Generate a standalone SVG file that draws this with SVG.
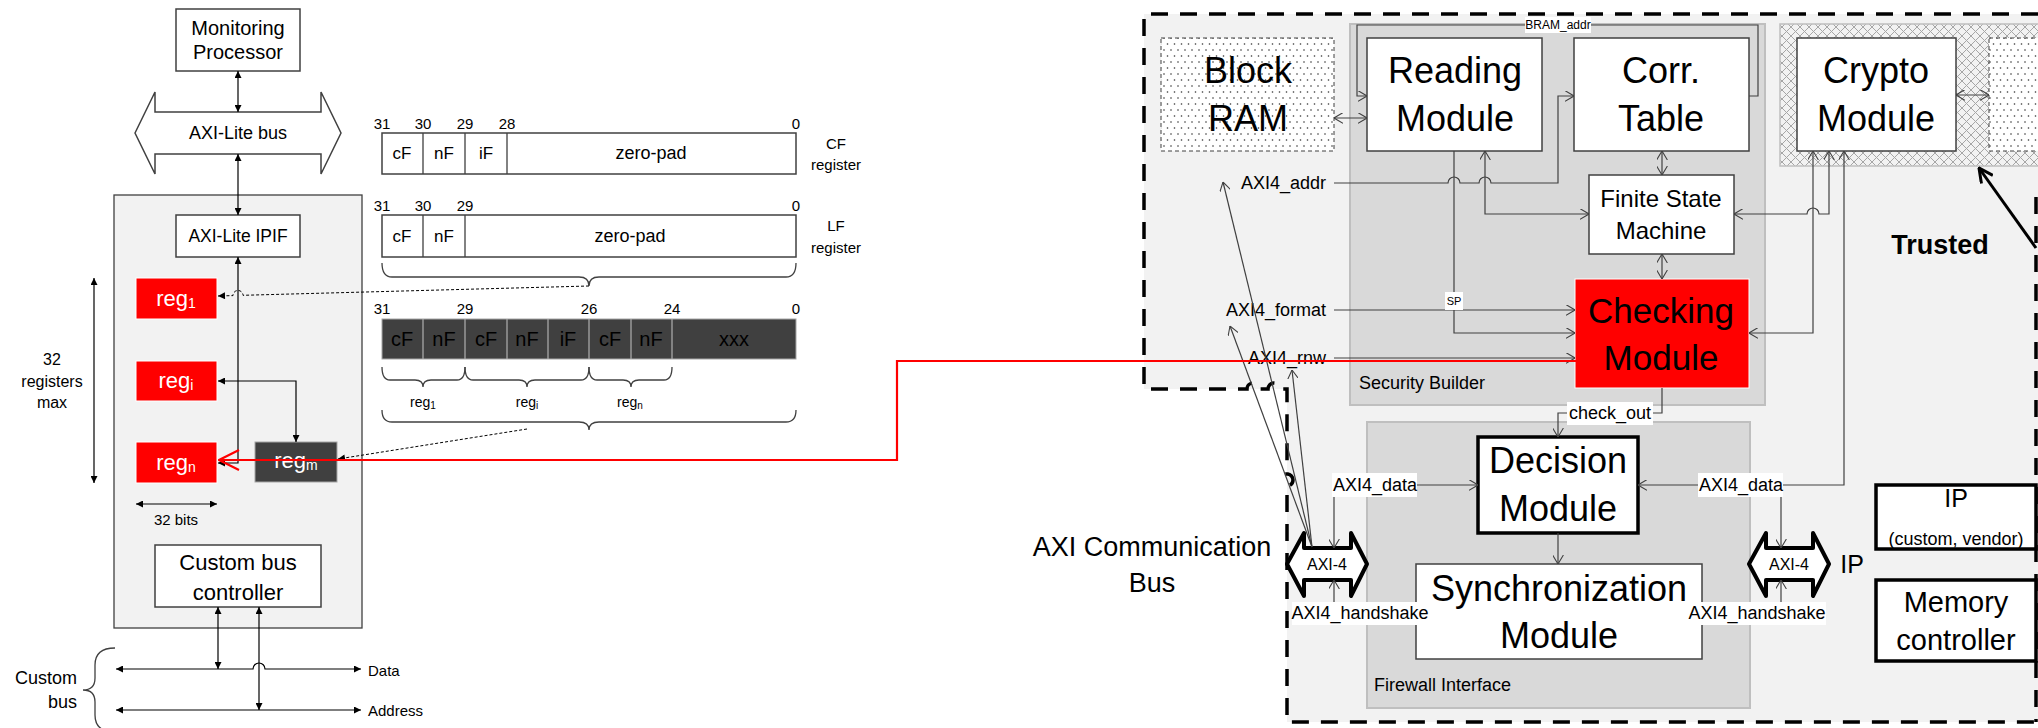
<svg xmlns="http://www.w3.org/2000/svg" width="2038" height="728" viewBox="0 0 2038 728">
<style>
text{font-family:"Liberation Sans",Arial,sans-serif;fill:#000;dominant-baseline:central}
.c{text-anchor:middle}
.r{text-anchor:end}
.box{fill:#fff;stroke:#404040;stroke-width:1.5}
.tbox{fill:#fff;stroke:#000;stroke-width:3.5}
.red{fill:#ff0000;stroke:#fff;stroke-width:1}
.dark{fill:#404040;stroke:#a6a6a6;stroke-width:1}
.w{fill:#fff}
.ln{fill:none;stroke:#000;stroke-width:1.2}
.rl{fill:none;stroke:#404040;stroke-width:1.2}
.dash{fill:none;stroke:#000;stroke-width:1;stroke-dasharray:3 2}
.br{fill:none;stroke:#404040;stroke-width:1.3}
.lab{fill:#fff}
</style>
<defs>
<marker id="fa" viewBox="0 0 10 10" refX="10" refY="5" markerWidth="9" markerHeight="7" markerUnits="userSpaceOnUse" orient="auto-start-reverse"><path d="M0,0 L10,5 L0,10 z" fill="#000"/></marker>
<marker id="oa" viewBox="0 0 10 12" refX="10" refY="6" markerWidth="9" markerHeight="11" markerUnits="userSpaceOnUse" orient="auto-start-reverse"><path d="M0,0 L10,6 L0,12" fill="none" stroke="#404040" stroke-width="1.2"/></marker>
<marker id="ra" viewBox="0 0 22 22" refX="21" refY="11" markerWidth="22" markerHeight="22" markerUnits="userSpaceOnUse" orient="auto"><path d="M1,1 L21,11 L1,21" fill="none" stroke="#ff0000" stroke-width="2.2"/></marker>
<marker id="ta" viewBox="0 0 16 16" refX="15" refY="8" markerWidth="16" markerHeight="16" markerUnits="userSpaceOnUse" orient="auto"><path d="M1,1 L15,8 L1,15" fill="none" stroke="#000" stroke-width="3"/></marker>
<pattern id="xh" width="9" height="9" patternUnits="userSpaceOnUse"><rect width="9" height="9" fill="#f2f2f2"/><path d="M0,0 L9,9 M9,0 L0,9" stroke="#a6a6a6" stroke-width="1"/></pattern>
<pattern id="dots" width="7" height="12" patternUnits="userSpaceOnUse"><rect width="7" height="12" fill="#fff"/><circle cx="2" cy="2" r="0.8" fill="#333"/><circle cx="5.5" cy="8" r="0.8" fill="#333"/></pattern>
</defs>
<rect width="2038" height="728" fill="#fff"/>

<!-- ============ LEFT DIAGRAM ============ -->
<g id="ipcore-container">
<rect x="114" y="195" width="248" height="433" fill="#f2f2f2" stroke="#404040" stroke-width="1.3"/>
</g>
<g id="monitoring-processor">
<rect class="box" x="176" y="9" width="124" height="62"/>
<text class="c" x="238" y="28" font-size="20">Monitoring</text>
<text class="c" x="238" y="52" font-size="20">Processor</text>
</g>
<g id="axi-lite-bus">
<polygon points="135,133 155,92 155,112 321,112 321,92 341,133 321,174 321,154 155,154 155,174" fill="#fff" stroke="#404040" stroke-width="1.5"/>
<text class="c" x="238" y="133" font-size="18">AXI-Lite bus</text>
</g>
<g id="axi-lite-ipif">
<rect class="box" x="176" y="215" width="124" height="42"/>
<text class="c" x="238" y="236" font-size="17.5">AXI-Lite IPIF</text>
</g>
<g id="reg1">
<rect class="red" x="136" y="278" width="81" height="41"/>
<text class="c w" x="176" y="298" font-size="22" fill="#fff">reg<tspan font-size="14" dy="5">1</tspan></text>
</g>
<g id="regi">
<rect class="red" x="136" y="361" width="81" height="40"/>
<text class="c w" x="176" y="380" font-size="22" fill="#fff">reg<tspan font-size="14" dy="5">i</tspan></text>
</g>
<g id="regn">
<rect class="red" x="136" y="442" width="81" height="41"/>
<text class="c w" x="176" y="462" font-size="22" fill="#fff">reg<tspan font-size="14" dy="5">n</tspan></text>
</g>
<g id="regm">
<rect class="dark" x="255" y="442" width="82" height="40"/>
<text class="c w" x="296" y="460" font-size="22" fill="#fff">reg<tspan font-size="14" dy="5">m</tspan></text>
</g>
<g id="custom-bus-controller">
<rect class="box" x="155" y="545" width="166" height="62"/>
<text class="c" x="238" y="562" font-size="22">Custom bus</text>
<text class="c" x="238" y="592" font-size="22">controller</text>
</g>
<g id="left-labels">
<text class="c" x="52" y="359" font-size="16">32</text>
<text class="c" x="52" y="381" font-size="16">registers</text>
<text class="c" x="52" y="402" font-size="16">max</text>
<text class="c" x="176" y="519" font-size="15">32 bits</text>
<text class="r" x="77" y="678" font-size="18">Custom</text>
<text class="r" x="77" y="702" font-size="18">bus</text>
<text x="368" y="670" font-size="15">Data</text>
<text x="368" y="710" font-size="15">Address</text>
<path class="br" d="M115,648 Q95,648 95,665 V678 Q95,690 83,690 Q95,690 95,702 V715 Q95,732 115,732"/>
</g>

<g id="cf-register">
<g font-size="15">
<text class="c" x="382" y="123">31</text><text class="c" x="423" y="123">30</text><text class="c" x="465" y="123">29</text><text class="c" x="507" y="123">28</text><text class="c" x="796" y="123">0</text>
</g>
<rect class="box" x="382" y="133" width="414" height="41"/>
<path d="M423,133 V174 M465,133 V174 M507,133 V174" stroke="#404040" stroke-width="1.3"/>
<text class="c" x="402" y="153" font-size="17">cF</text>
<text class="c" x="444" y="153" font-size="17">nF</text>
<text class="c" x="486" y="153" font-size="17">iF</text>
<text class="c" x="651" y="153" font-size="18">zero-pad</text>
<text class="c" x="836" y="143" font-size="15">CF</text>
<text class="c" x="836" y="164" font-size="15">register</text>
</g>
<g id="lf-register">
<g font-size="15">
<text class="c" x="382" y="205">31</text><text class="c" x="423" y="205">30</text><text class="c" x="465" y="205">29</text><text class="c" x="796" y="205">0</text>
</g>
<rect class="box" x="382" y="215" width="414" height="42"/>
<path d="M423,215 V257 M465,215 V257" stroke="#404040" stroke-width="1.3"/>
<text class="c" x="402" y="236" font-size="17">cF</text>
<text class="c" x="444" y="236" font-size="17">nF</text>
<text class="c" x="630" y="236" font-size="18">zero-pad</text>
<text class="c" x="836" y="225" font-size="15">LF</text>
<text class="c" x="836" y="247" font-size="15">register</text>
<path class="br" d="M382,263 Q382,277 392,277 H579 Q589,277 589,286 Q589,277 599,277 H786 Q796,277 796,263"/>
</g>
<g id="packed-register">
<g font-size="15">
<text class="c" x="382" y="308">31</text><text class="c" x="465" y="308">29</text><text class="c" x="589" y="308">26</text><text class="c" x="672" y="308">24</text><text class="c" x="796" y="308">0</text>
</g>
<rect class="dark" x="382" y="319" width="414" height="40"/>
<path d="M423,319 V359 M465,319 V359 M507,319 V359 M548,319 V359 M589,319 V359 M631,319 V359 M672,319 V359" stroke="#a6a6a6" stroke-width="1.3"/>
<g font-size="20" fill="#fff">
<text class="c" x="402" y="339" fill="#fff">cF</text>
<text class="c" x="444" y="339" fill="#fff">nF</text>
<text class="c" x="486" y="339" fill="#fff">cF</text>
<text class="c" x="527" y="339" fill="#fff">nF</text>
<text class="c" x="568" y="339" fill="#fff">iF</text>
<text class="c" x="610" y="339" fill="#fff">cF</text>
<text class="c" x="651" y="339" fill="#fff">nF</text>
<text class="c" x="734" y="339" fill="#fff">xxx</text>
</g>
<path class="br" d="M382,367 Q382,380 390,380 H415 Q423,380 423,387 Q423,380 431,380 H457 Q465,380 465,367"/>
<path class="br" d="M465,367 Q465,380 473,380 H519 Q527,380 527,387 Q527,380 535,380 H581 Q589,380 589,367"/>
<path class="br" d="M589,367 Q589,380 597,380 H623 Q631,380 631,387 Q631,380 639,380 H664 Q672,380 672,367"/>
<text class="c" x="423" y="402" font-size="14">reg<tspan font-size="10" dy="3">1</tspan></text>
<text class="c" x="527" y="402" font-size="14">reg<tspan font-size="10" dy="3">i</tspan></text>
<text class="c" x="630" y="402" font-size="14">reg<tspan font-size="10" dy="3">n</tspan></text>
<path class="br" d="M382,410 Q382,422 392,422 H579 Q589,422 589,430 Q589,422 599,422 H786 Q796,422 796,410"/>
</g>

<!-- ============ RIGHT DIAGRAM ============ -->
<g id="trusted-zone">
<path d="M1144,14 H2038 V722 H1287 V389 H1144 Z" fill="#f2f2f2"/>
</g>
<g id="security-builder">
<rect x="1350" y="24" width="415" height="381" fill="#d9d9d9" stroke="#bfbfbf" stroke-width="2"/>
<text x="1359" y="383" font-size="18" fill="#262626">Security Builder</text>
</g>
<g id="firewall-interface">
<rect x="1367" y="422" width="383" height="286" fill="#d9d9d9" stroke="#bfbfbf" stroke-width="2"/>
<text x="1374" y="685" font-size="18" fill="#262626">Firewall Interface</text>
</g>
<g id="crypto-zone">
<rect x="1780" y="24" width="262" height="142" fill="url(#xh)" stroke="#bfbfbf" stroke-width="1.5"/>
</g>
<g id="trusted-border">
<path d="M2038,14 H1144 V389 H1247 A6,6 0 0 1 1259,389 H1268 A6,6 0 0 1 1280,389 H1287 V474 A6,6 0 0 1 1287,486 V722 H2038" fill="none" stroke="#000" stroke-width="3.5" stroke-dasharray="17 12"/>
<path d="M2036,197 V722" fill="none" stroke="#000" stroke-width="3.5" stroke-dasharray="17 12"/>
</g>
<g id="block-ram">
<rect x="1161" y="38" width="173" height="113" fill="url(#dots)" stroke="#404040" stroke-width="1" stroke-dasharray="4 3"/>
<text class="c" x="1248" y="70" font-size="36">Block</text>
<text class="c" x="1248" y="118" font-size="36">RAM</text>
</g>
<g id="block-ram-2">
<rect x="1989" y="38" width="173" height="113" fill="url(#dots)" stroke="#404040" stroke-width="1" stroke-dasharray="4 3"/>
</g>
<g id="reading-module">
<rect class="box" x="1367" y="38" width="175" height="113"/>
<text class="c" x="1455" y="70" font-size="36">Reading</text>
<text class="c" x="1455" y="118" font-size="36">Module</text>
</g>
<g id="corr-table">
<rect class="box" x="1574" y="38" width="175" height="113"/>
<text class="c" x="1661" y="70" font-size="36">Corr.</text>
<text class="c" x="1661" y="118" font-size="36">Table</text>
</g>
<g id="crypto-module">
<rect class="box" x="1797" y="38" width="159" height="113"/>
<text class="c" x="1876" y="70" font-size="36">Crypto</text>
<text class="c" x="1876" y="118" font-size="36">Module</text>
</g>
<g id="fsm">
<rect class="box" x="1589" y="175" width="145" height="79"/>
<text class="c" x="1661" y="198" font-size="24">Finite State</text>
<text class="c" x="1661" y="230" font-size="24">Machine</text>
</g>
<g id="checking-module">
<rect x="1575" y="279" width="174" height="109" fill="#ff0000" stroke="#fff" stroke-width="1"/>
<text class="c" x="1661" y="310" font-size="35" fill="#fff">Checking</text>
<text class="c" x="1661" y="357" font-size="35" fill="#fff">Module</text>
</g>
<g id="decision-module">
<rect class="tbox" x="1478" y="437" width="160" height="96"/>
<text class="c" x="1558" y="460" font-size="36">Decision</text>
<text class="c" x="1558" y="508" font-size="36">Module</text>
</g>
<g id="sync-module">
<rect class="box" x="1416" y="564" width="286" height="95"/>
<text class="c" x="1559" y="588" font-size="36">Synchronization</text>
<text class="c" x="1559" y="635" font-size="36">Module</text>
</g>
<g id="axi4-left">
<polygon points="1287,564 1304,533 1304,548 1351,548 1351,533 1367,564 1351,596 1351,580 1304,580 1304,596" fill="#fff" stroke="#000" stroke-width="4" stroke-linejoin="round"/>
<text class="c" x="1327" y="564" font-size="16">AXI-4</text>
</g>
<g id="axi4-right">
<polygon points="1749,564 1766,533 1766,548 1813,548 1813,533 1829,564 1813,596 1813,580 1766,580 1766,596" fill="#fff" stroke="#000" stroke-width="4" stroke-linejoin="round"/>
<text class="c" x="1789" y="564" font-size="16">AXI-4</text>
</g>
<g id="ip-custom">
<rect class="tbox" x="1876" y="485" width="160" height="64"/>
<text class="c" x="1956" y="498" font-size="25">IP</text>
<text class="c" x="1956" y="539" font-size="18">(custom, vendor)</text>
</g>
<g id="memory-controller">
<rect class="tbox" x="1876" y="580" width="160" height="81"/>
<text class="c" x="1956" y="602" font-size="29">Memory</text>
<text class="c" x="1956" y="640" font-size="29">controller</text>
</g>
<g id="right-labels">
<text class="c" x="1152" y="547" font-size="27">AXI Communication</text>
<text class="c" x="1152" y="583" font-size="27">Bus</text>
<text class="c" x="1852" y="564" font-size="25">IP</text>
<text class="c" x="1940" y="245" font-size="27" font-weight="bold">Trusted</text>
<text class="r" x="1326" y="183" font-size="18">AXI4_addr</text>
<text class="r" x="1326" y="310" font-size="18">AXI4_format</text>
<text class="r" x="1326" y="358" font-size="18">AXI4_rnw</text>
</g>

<!-- ============ CONNECTORS ============ -->
<g id="connectors">
<path class="ln" d="M238,71 V112" marker-start="url(#fa)" marker-end="url(#fa)"/>
<path class="ln" d="M238,154 V215" marker-start="url(#fa)" marker-end="url(#fa)"/>
<path class="ln" d="M218,463 H238 V257" marker-start="url(#fa)" marker-end="url(#fa)"/>
<path class="dash" d="M589,286 L243,295.3 A5,5 0 0 0 233,295.6 L218,296" marker-end="url(#fa)"/>
<path class="ln" d="M218,381 H296 V442" marker-start="url(#fa)" marker-end="url(#fa)"/>
<path class="dash" d="M527,429 L338,459" marker-end="url(#fa)"/>
<path class="ln" d="M94,278 V483" marker-start="url(#fa)" marker-end="url(#fa)"/>
<path class="ln" d="M136,504 H217" marker-start="url(#fa)" marker-end="url(#fa)"/>
<path class="ln" d="M218,607 V669" marker-start="url(#fa)" marker-end="url(#fa)"/>
<path class="ln" d="M259,607 V710" marker-start="url(#fa)" marker-end="url(#fa)"/>
<path class="ln" d="M116,669 H253 A6,6 0 0 1 265,669 H361" marker-start="url(#fa)" marker-end="url(#fa)"/>
<path class="ln" d="M116,710 H361" marker-start="url(#fa)" marker-end="url(#fa)"/>
<path class="rl" d="M1334,118 H1367" marker-start="url(#oa)" marker-end="url(#oa)"/>
<path class="rl" d="M1749,96 H1758 V25 H1357 V96 H1367" marker-end="url(#oa)"/>
<path class="rl" d="M1334,183 H1448 A6,6 0 0 1 1460,183 H1479 A6,6 0 0 1 1491,183 H1558 V96 H1574" marker-end="url(#oa)"/>
<path class="rl" d="M1485,151 V214 H1589" marker-start="url(#oa)" marker-end="url(#oa)"/>
<path class="rl" d="M1454,151 V333 H1575" marker-end="url(#oa)"/>
<path class="rl" d="M1334,310 H1575" marker-end="url(#oa)"/>
<path class="rl" d="M1334,358 H1575" marker-end="url(#oa)"/>
<path class="rl" d="M1662,151 V175" marker-start="url(#oa)" marker-end="url(#oa)"/>
<path class="rl" d="M1662,254 V279" marker-start="url(#oa)" marker-end="url(#oa)"/>
<path class="rl" d="M1813,151 V333 H1749" marker-start="url(#oa)" marker-end="url(#oa)"/>
<path class="rl" d="M1829,151 V214 H1819 A6,6 0 0 0 1807,214 H1734" marker-start="url(#oa)" marker-end="url(#oa)"/>
<path class="rl" d="M1844,151 V485 H1638" marker-start="url(#oa)" marker-end="url(#oa)"/>
<path class="rl" d="M1956,95 H1989" marker-start="url(#oa)" marker-end="url(#oa)"/>
<path class="rl" d="M1662,388 V413 H1558 V437" marker-end="url(#oa)"/>
<path class="rl" d="M1558,533 V564" marker-end="url(#oa)"/>
<path class="rl" d="M1417,485 H1478" marker-end="url(#oa)"/>
<path class="rl" d="M1334,497 V548" marker-end="url(#oa)"/>
<path class="rl" d="M1334,602 V580" marker-end="url(#oa)"/>
<path class="rl" d="M1781,497 V548" marker-end="url(#oa)"/>
<path class="rl" d="M1781,602 V580" marker-end="url(#oa)"/>
<path class="rl" d="M1312,547 L1223,182" marker-end="url(#oa)"/>
<path class="rl" d="M1312,547 L1230,326" marker-end="url(#oa)"/>
<path class="rl" d="M1312,547 L1292,370" marker-end="url(#oa)"/>
<path d="M2036,248 L1979,168" fill="none" stroke="#000" stroke-width="3" marker-end="url(#ta)"/>
<rect class="lab" x="1525" y="17" width="66" height="16"/>
<text class="c" x="1558" y="25" font-size="12">BRAM_addr</text>
<rect class="lab" x="1445" y="292" width="18" height="18"/>
<text class="c" x="1454" y="301" font-size="11">SP</text>
<rect class="lab" x="1567" y="402" width="86" height="23"/>
<text class="c" x="1610" y="413" font-size="18">check_out</text>
<rect class="lab" x="1332" y="473" width="85" height="24"/>
<text class="c" x="1375" y="485" font-size="18">AXI4_data</text>
<rect class="lab" x="1698" y="473" width="85" height="24"/>
<text class="c" x="1741" y="485" font-size="18">AXI4_data</text>
<rect class="lab" x="1292" y="602" width="135" height="23"/>
<text class="c" x="1360" y="613" font-size="18">AXI4_handshake</text>
<rect class="lab" x="1689" y="602" width="137" height="23"/>
<text class="c" x="1757" y="613" font-size="18">AXI4_handshake</text>
<path d="M1576,361 H897 V460 H219" fill="none" stroke="#ff0000" stroke-width="2.2" marker-end="url(#ra)"/>
</g>
</svg>
